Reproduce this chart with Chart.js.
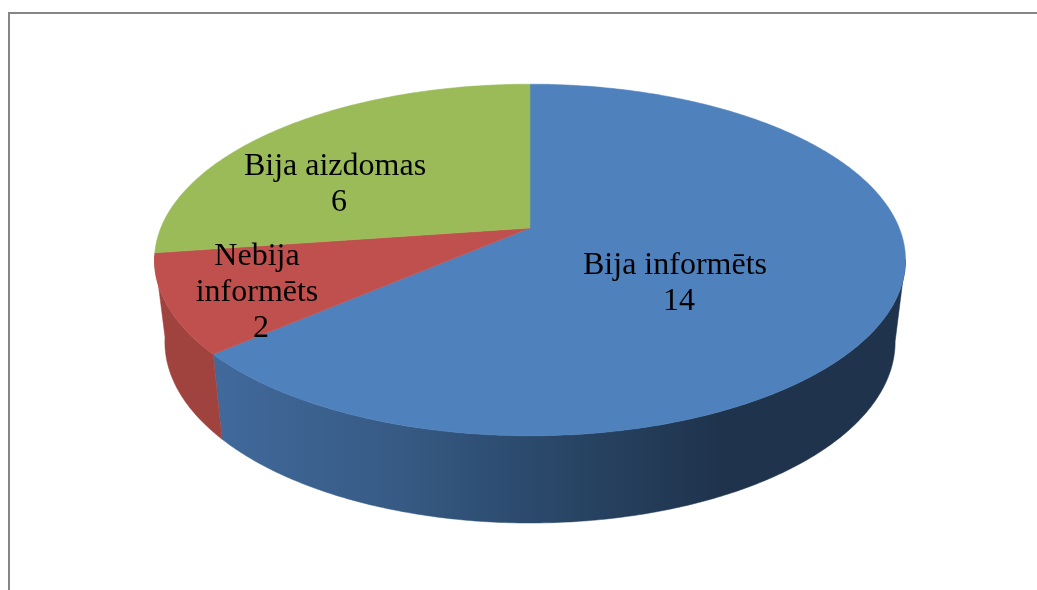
<!DOCTYPE html>
<html>
<head>
<meta charset="utf-8">
<title>Pie</title>
<script src="https://cdn.jsdelivr.net/npm/chart.js@4/dist/chart.umd.min.js"></script>
<style>
  html, body { margin: 0; padding: 0; background: #fff; overflow: hidden; }
  #wrap { position: relative; width: 1037px; height: 590px; }
  #frame { position: absolute; left: 8px; top: 12px; width: 2000px; height: 2000px; border: 2px solid #868686; box-sizing: border-box; }
  canvas { position: absolute; left: 0; top: 0; }
</style>
</head>
<body>
<div id="wrap">
  <div id="frame"></div>
  <canvas id="chart" width="1037" height="590"></canvas>
</div>
<script>
const categories = ['Bija informēts', 'Nebija informēts', 'Bija aizdomas'];
const values = [14, 2, 6];
const sliceColors = ['#4f81bd', '#c0504d', '#9bbb59'];

// look of the tilted disc, fitted to the reference
const RADIUS = 170;
const TILT = -0.1818;
const TOP_RIM = { sx: 2.172, sy: 1, dy: 0 };
const BASE_RIM = { sx: 2.112, sy: 1.03, dy: 81 };
// the wall is only seen between these two angles (radians, 0 = right, clockwise)
const FRONT_START = 0.18;
const FRONT_END = Math.PI * 0.95;

// where the labels sit, relative to the pie centre
const labelBoxes = [
  { dx: 145, dy: 46, wrap: 240 },
  { dx: -273, dy: 37, wrap: 130 },
  { dx: -195, dy: -53, wrap: 240 }
];
const LABEL_FONT = '32px "Liberation Serif"';
const LINE_HEIGHT = 36;
const VALUE_SHIFT = 4; // the numbers sit a little right of the names

function rimPoint(arc, rim, angle) {
  const u = Math.cos(angle), v = Math.sin(angle);
  const w = 1 + TILT * v;
  return {
    x: arc.x + rim.sx * RADIUS * u / w,
    y: arc.y + rim.dy + rim.sy * RADIUS * v / w
  };
}

function traceRim(ctx, arc, rim, from, to) {
  const steps = Math.max(2, Math.ceil(Math.abs(to - from) / 0.01));
  for (let i = 0; i <= steps; i++) {
    const p = rimPoint(arc, rim, from + (to - from) * i / steps);
    ctx.lineTo(p.x, p.y);
  }
}

function wallFill(ctx, index, color) {
  if (index === 0) {
    const g = ctx.createLinearGradient(215, 0, 720, 0);
    g.addColorStop(0, '#41699b');
    g.addColorStop(0.37, '#365a84');
    g.addColorStop(0.62, '#2b4a6c');
    g.addColorStop(1, '#1f334c');
    return g;
  }
  if (index === 1) return '#a0433f';
  return color;
}

const pie3d = {
  id: 'pie3d',
  beforeDatasetDraw(chart, args) {
    const ctx = chart.ctx;
    const arcs = chart.getDatasetMeta(args.index).data;
    // side walls first
    arcs.forEach((arc, i) => {
      const from = Math.max(arc.startAngle, FRONT_START);
      const to = Math.min(arc.endAngle, FRONT_END);
      if (to <= from) return;
      const fill = wallFill(ctx, i, arc.options.backgroundColor);
      ctx.fillStyle = fill;
      ctx.strokeStyle = fill;
      ctx.lineWidth = 0.5;
      ctx.beginPath();
      traceRim(ctx, arc, TOP_RIM, from, to);
      traceRim(ctx, arc, BASE_RIM, to, from);
      ctx.closePath();
      ctx.fill();
      ctx.stroke();
    });
    // top face
    arcs.forEach(arc => {
      ctx.fillStyle = arc.options.backgroundColor;
      ctx.strokeStyle = arc.options.backgroundColor;
      ctx.lineWidth = 0.5;
      ctx.beginPath();
      ctx.moveTo(arc.x, arc.y);
      traceRim(ctx, arc, TOP_RIM, arc.startAngle, arc.endAngle);
      ctx.closePath();
      ctx.fill();
      ctx.stroke();
    });
    return false;
  },
  afterDatasetsDraw(chart) {
    const ctx = chart.ctx;
    const arcs = chart.getDatasetMeta(0).data;
    ctx.save();
    ctx.font = LABEL_FONT;
    ctx.fillStyle = '#000';
    ctx.textAlign = 'center';
    ctx.textBaseline = 'alphabetic';
    arcs.forEach((arc, i) => {
      const box = labelBoxes[i];
      const lines = [];
      let line = '';
      chart.data.labels[i].split(' ').forEach(word => {
        const next = line ? line + ' ' + word : word;
        if (line && ctx.measureText(next).width > box.wrap) {
          lines.push(line);
          line = word;
        } else {
          line = next;
        }
      });
      lines.push(line);
      lines.forEach((text, n) => {
        ctx.fillText(text, arc.x + box.dx, arc.y + box.dy + n * LINE_HEIGHT);
      });
      ctx.fillText(String(chart.data.datasets[0].data[i]), arc.x + box.dx + VALUE_SHIFT, arc.y + box.dy + lines.length * LINE_HEIGHT);
    });
    ctx.restore();
  }
};

new Chart(document.getElementById('chart'), {
  type: 'pie',
  data: {
    labels: categories,
    datasets: [{ data: values, backgroundColor: sliceColors, borderWidth: 0 }]
  },
  options: {
    responsive: false,
    animation: false,
    radius: RADIUS,
    layout: { padding: { left: 23, right: 0, top: 0, bottom: 134 } },
    plugins: { legend: { display: false }, tooltip: { enabled: false } }
  },
  plugins: [pie3d]
});
</script>
</body>
</html>
